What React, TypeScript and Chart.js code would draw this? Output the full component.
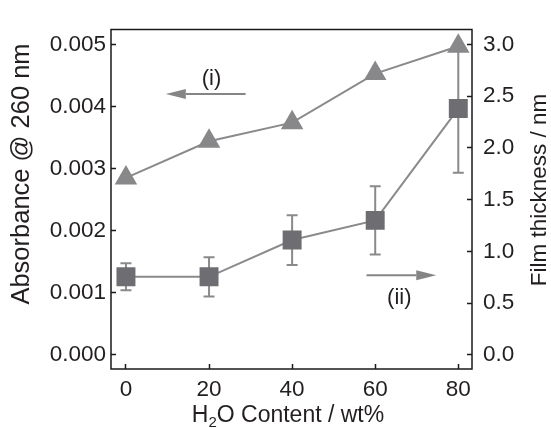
import React, { useEffect, useRef } from "react";
import { Chart, registerables } from "chart.js";
Chart.register(...registerables);

// ---- data ----
const waterContent = [0, 20, 40, 60, 80];
const absorbance = [0.00285, 0.00344, 0.00374, 0.00453, 0.00497];
const thickness = [0.755, 0.755, 1.11, 1.3, 2.38];
const thicknessErr = [0.13, 0.19, 0.24, 0.33, 0.62];

const xTicks = [0, 20, 40, 60, 80];
const absTicks = [0, 0.001, 0.002, 0.003, 0.004, 0.005];
const thickTicks = [0, 0.5, 1, 1.5, 2, 2.5, 3];

// annotation arrows (data coordinates)
const arrowIX = [28.8, 9.6];
const arrowIY = 0.0042;
const labelI = "(i)";
const labelIPos = [20.6, 0.00444];
const arrowIIX = [57.9, 74.7];
const arrowIIY = 0.771;
const labelII = "(ii)";
const labelIIPos = [65.8, 0.547];

const leftTitle = "Absorbance @ 260 nm";
const rightTitle = "Film thickness / nm";
const xTitleParts = ["H", "2", "O Content / wt%"];

const FONT = "'Liberation Sans', Arial, Helvetica, sans-serif";
const TEXT = "#231f20";
const GRAY_LINE = "#8a8a8a";

function drawArrow(ctx: CanvasRenderingContext2D, x0: number, x1: number, y: number) {
  const dir = x1 > x0 ? 1 : -1;
  const headLen = 20;
  const headHalf = 5;
  ctx.save();
  ctx.strokeStyle = "#858585";
  ctx.fillStyle = "#858585";
  ctx.lineWidth = 2;
  ctx.beginPath();
  ctx.moveTo(x0, y);
  ctx.lineTo(x1 - dir * headLen, y);
  ctx.stroke();
  ctx.beginPath();
  ctx.moveTo(x1, y);
  ctx.lineTo(x1 - dir * headLen, y - headHalf);
  ctx.lineTo(x1 - dir * headLen, y + headHalf);
  ctx.closePath();
  ctx.fill();
  ctx.restore();
}

const overlay = {
  id: "overlay",
  beforeDatasetsDraw(chart: any) {
    const ctx = chart.ctx as CanvasRenderingContext2D;
    const xs = chart.scales.x;
    const ys = chart.scales.y2;
    ctx.save();
    ctx.strokeStyle = GRAY_LINE;
    ctx.lineWidth = 2;
    waterContent.forEach((w, i) => {
      const px = xs.getPixelForValue(w);
      const top = ys.getPixelForValue(thickness[i] + thicknessErr[i]);
      const bot = ys.getPixelForValue(thickness[i] - thicknessErr[i]);
      ctx.beginPath();
      ctx.moveTo(px, top);
      ctx.lineTo(px, bot);
      ctx.moveTo(px - 5.5, top);
      ctx.lineTo(px + 5.5, top);
      ctx.moveTo(px - 5.5, bot);
      ctx.lineTo(px + 5.5, bot);
      ctx.stroke();
    });
    ctx.restore();
  },
  afterDraw(chart: any) {
    const ctx = chart.ctx as CanvasRenderingContext2D;
    const { left, right, top, bottom } = chart.chartArea;
    const xs = chart.scales.x;
    const yl = chart.scales.y;
    const yr = chart.scales.y2;
    ctx.save();
    // frame
    ctx.strokeStyle = "#1a1a1a";
    ctx.lineWidth = 1.5;
    ctx.strokeRect(left, top, right - left, bottom - top);

    // arrows
    drawArrow(ctx, xs.getPixelForValue(arrowIX[0]), xs.getPixelForValue(arrowIX[1]), yl.getPixelForValue(arrowIY));
    drawArrow(ctx, xs.getPixelForValue(arrowIIX[0]), xs.getPixelForValue(arrowIIX[1]), yr.getPixelForValue(arrowIIY));

    ctx.fillStyle = TEXT;
    ctx.font = `22px ${FONT}`;
    ctx.textAlign = "center";
    ctx.textBaseline = "middle";
    ctx.fillText(labelI, xs.getPixelForValue(labelIPos[0]), yl.getPixelForValue(labelIPos[1]));
    ctx.fillText(labelII, xs.getPixelForValue(labelIIPos[0]), yr.getPixelForValue(labelIIPos[1]));

    // left title
    ctx.save();
    ctx.font = `25.5px ${FONT}`;
    ctx.translate(22, 174);
    ctx.rotate(-Math.PI / 2);
    ctx.fillText(leftTitle, 0, 0);
    ctx.restore();

    // right title
    ctx.save();
    ctx.font = `22.5px ${FONT}`;
    ctx.translate(540, 190);
    ctx.rotate(-Math.PI / 2);
    ctx.fillText(rightTitle, 0, 0);
    ctx.restore();

    // x title with subscript
    ctx.textAlign = "left";
    ctx.textBaseline = "alphabetic";
    const mainFont = `23px ${FONT}`;
    const subFont = `15px ${FONT}`;
    ctx.font = mainFont;
    const w0 = ctx.measureText(xTitleParts[0]).width;
    const w2 = ctx.measureText(xTitleParts[2]).width;
    ctx.font = subFont;
    const w1 = ctx.measureText(xTitleParts[1]).width;
    const total = w0 + w1 + w2;
    let x = 288 - total / 2;
    const base = 421.5;
    ctx.font = mainFont;
    ctx.fillText(xTitleParts[0], x, base);
    x += w0;
    ctx.font = subFont;
    ctx.fillText(xTitleParts[1], x, base + 5);
    x += w1;
    ctx.font = mainFont;
    ctx.fillText(xTitleParts[2], x, base);
    ctx.restore();
  },
};

export default function App() {
  const ref = useRef<HTMLCanvasElement | null>(null);
  useEffect(() => {
    if (!ref.current) return;
    const tickFont = { family: FONT, size: 22.5 };
    const chart = new Chart(ref.current, {
      type: "line",
      data: {
        datasets: [
          {
            label: "Absorbance",
            data: waterContent.map((w, i) => ({ x: w, y: absorbance[i] })),
            yAxisID: "y",
            borderColor: GRAY_LINE,
            borderWidth: 2,
            pointStyle: "triangle",
            pointRadius: 13,
            pointBackgroundColor: "#88888b",
            pointBorderWidth: 0,
            pointBorderColor: "#88888b",
            order: 0,
          },
          {
            label: "Film thickness",
            data: waterContent.map((w, i) => ({ x: w, y: thickness[i] })),
            yAxisID: "y2",
            borderColor: GRAY_LINE,
            borderWidth: 2,
            pointStyle: "rect",
            pointRadius: 13.4,
            pointBackgroundColor: "#6e6e72",
            pointBorderWidth: 0,
            pointBorderColor: "#6e6e72",
            order: 1,
          },
        ],
      } as any,
      options: {
        responsive: false,
        animation: false,
        layout: { padding: { top: 13.5, left: 0, right: 0, bottom: 0 } },
        plugins: { legend: { display: false }, tooltip: { enabled: false } },
        scales: {
          x: {
            type: "linear",
            position: "bottom",
            min: -3.6,
            max: 83.3,
            afterBuildTicks: (s: any) => {
              s.ticks = xTicks.map((v) => ({ value: v }));
            },
            afterFit: (s: any) => {
              s.height = 428 - 369;
            },
            grid: { drawOnChartArea: false, drawTicks: true, tickLength: -5, tickColor: "#1a1a1a", tickWidth: 1.5 },
            border: { display: false },
            ticks: { padding: 12, color: TEXT, font: tickFont, maxRotation: 0, callback: (v: any) => String(v) },
          },
          y: {
            type: "linear",
            position: "left",
            min: -0.000226,
            max: 0.00524,
            afterBuildTicks: (s: any) => {
              s.ticks = absTicks.map((v) => ({ value: v }));
            },
            afterFit: (s: any) => {
              s.width = 111;
            },
            grid: { drawOnChartArea: false, drawTicks: true, tickLength: -5, tickColor: "#1a1a1a", tickWidth: 1.5 },
            border: { display: false },
            ticks: { padding: 10, color: TEXT, font: tickFont, callback: (v: any) => Number(v).toFixed(3) },
          },
          y2: {
            type: "linear",
            position: "right",
            min: -0.1356,
            max: 3.144,
            afterBuildTicks: (s: any) => {
              s.ticks = thickTicks.map((v) => ({ value: v }));
            },
            afterFit: (s: any) => {
              s.width = 551 - 472;
            },
            grid: { drawOnChartArea: false, drawTicks: true, tickLength: -5, tickColor: "#1a1a1a", tickWidth: 1.5 },
            border: { display: false },
            ticks: { padding: 16, color: TEXT, font: tickFont, callback: (v: any) => Number(v).toFixed(1) },
          },
        },
      } as any,
      plugins: [overlay],
    });
    return () => chart.destroy();
  }, []);
  return (
    <div style={{ position: "fixed", left: 0, top: 0, width: 551, height: 428, background: "#fff" }}>
      <canvas ref={ref} width={551} height={428} style={{ display: "block" }} />
    </div>
  );
}
